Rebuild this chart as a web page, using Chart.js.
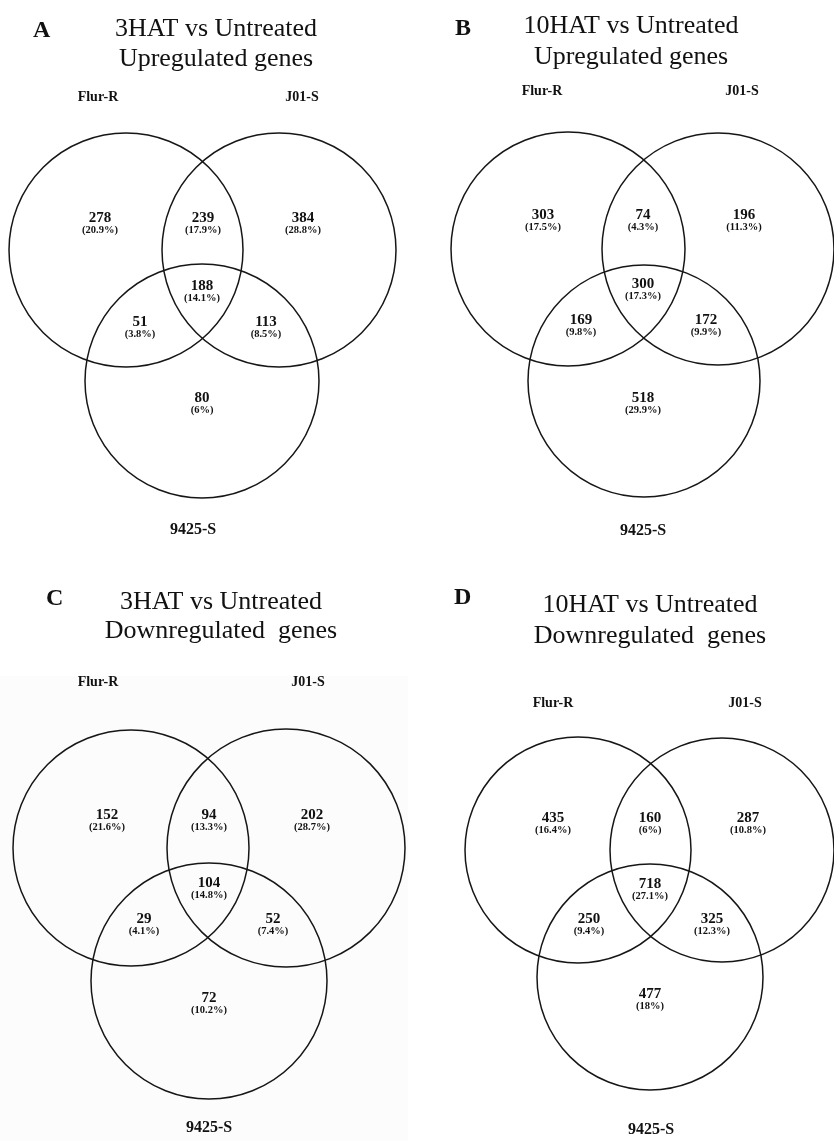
<!DOCTYPE html>
<html>
<head>
<meta charset="utf-8">
<script src="https://cdn.jsdelivr.net/npm/chart.js@4"></script>
<style>
  html, body { margin: 0; padding: 0; background: #fff; }
  #wrap { position: relative; width: 834px; height: 1141px; }
  canvas { display: block; }
</style>
</head>
<body>
<div id="wrap"><canvas id="c" width="834" height="1141"></canvas></div>
<script>
// ---------------- DATA ----------------
const panelLetters = ['A', 'B', 'C', 'D'];
const titleLine1 = ['3HAT vs Untreated', '10HAT vs Untreated', '3HAT vs Untreated', '10HAT vs Untreated'];
const titleLine2 = ['Upregulated genes', 'Upregulated genes', 'Downregulated  genes', 'Downregulated  genes'];
const setNames = ['Flur-R', 'J01-S', '9425-S'];
// region order: Flur-R only, Flur-R∩J01-S, J01-S only, all three, Flur-R∩9425-S, J01-S∩9425-S, 9425-S only
const countsA = [278, 239, 384, 188, 51, 113, 80];
const pctA    = [20.9, 17.9, 28.8, 14.1, 3.8, 8.5, 6];
const countsB = [303, 74, 196, 300, 169, 172, 518];
const pctB    = [17.5, 4.3, 11.3, 17.3, 9.8, 9.9, 29.9];
const countsC = [152, 94, 202, 104, 29, 52, 72];
const pctC    = [21.6, 13.3, 28.7, 14.8, 4.1, 7.4, 10.2];
const countsD = [435, 160, 287, 718, 250, 325, 477];
const pctD    = [16.4, 6, 10.8, 27.1, 9.4, 12.3, 18];

// ---------------- LAYOUT (diagram units) ----------------
const circlesA = [{x:126, y:250, r:117}, {x:279, y:250, r:117}, {x:202, y:381, r:117}];
const circlesB = [{x:568, y:249, r:117}, {x:718, y:249, r:116}, {x:644, y:381, r:116}];
const circlesC = [{x:131, y:848, r:118}, {x:286, y:848, r:119}, {x:209, y:981, r:118}];
const circlesD = [{x:578, y:850, r:113}, {x:722, y:850, r:112}, {x:650, y:977, r:113}];
const regionPosA = [[100,218],[203,218],[303,218],[202,286],[140,322],[266,322],[202,398]];
const regionPosB = [[543,215],[643,215],[744,215],[643,284],[581,320],[706,320],[643,398]];
const regionPosC = [[107,815],[209,815],[312,815],[209,883],[144,919],[273,919],[209,998]];
const regionPosD = [[553,818],[650,818],[748,818],[650,884],[589,919],[712,919],[650,994]];
const setPosA = [[98,97],[302,97],[193,530]];
const setPosB = [[542,91],[742,91],[643,531]];
const setPosC = [[98,682],[308,682],[209,1128]];
const setPosD = [[553,703],[745,703],[651,1130]];
const headerA = {letter:[33,37], cx:216, l1:36, l2:66};
const headerB = {letter:[455,35], cx:631, l1:33, l2:64};
const headerC = {letter:[46,605], cx:221, l1:609, l2:638};
const headerD = {letter:[454,604], cx:650, l1:612, l2:643};

const panels = [
  {circles:circlesA, counts:countsA, pct:pctA, pos:regionPosA, setPos:setPosA, head:headerA},
  {circles:circlesB, counts:countsB, pct:pctB, pos:regionPosB, setPos:setPosB, head:headerB},
  {circles:circlesC, counts:countsC, pct:pctC, pos:regionPosC, setPos:setPosC, head:headerC},
  {circles:circlesD, counts:countsD, pct:pctD, pos:regionPosD, setPos:setPosD, head:headerD}
];

const SERIF = '"Liberation Serif", "Times New Roman", Times, serif';

const bgPlugin = {
  id: 'bg',
  beforeDraw(chart) {
    const c = chart.ctx, xs = chart.scales.x, ys = chart.scales.y;
    c.save();
    c.fillStyle = '#fff';
    c.fillRect(0, 0, chart.width, chart.height);
    // faint grey backdrop of panel C
    c.fillStyle = '#fcfcfc';
    const x0 = xs.getPixelForValue(0), x1 = xs.getPixelForValue(408);
    const y0 = ys.getPixelForValue(676), y1 = ys.getPixelForValue(1141);
    c.fillRect(x0, y0, x1 - x0, y1 - y0);
    c.restore();
  }
};

const textPlugin = {
  id: 'vennText',
  afterDatasetsDraw(chart) {
    const c = chart.ctx, xs = chart.scales.x, ys = chart.scales.y;
    c.save();
    c.fillStyle = '#111';
    panels.forEach((p, pi) => {
      // panel letter
      c.textAlign = 'left'; c.textBaseline = 'alphabetic';
      c.font = 'bold 24px ' + SERIF;
      c.fillText(panelLetters[pi], xs.getPixelForValue(p.head.letter[0]), ys.getPixelForValue(p.head.letter[1]));
      // title
      c.textAlign = 'center';
      c.font = '26px ' + SERIF;
      c.fillText(titleLine1[pi], xs.getPixelForValue(p.head.cx), ys.getPixelForValue(p.head.l1));
      c.fillText(titleLine2[pi], xs.getPixelForValue(p.head.cx), ys.getPixelForValue(p.head.l2));
      // set names
      c.textBaseline = 'middle';
      setNames.forEach((n, si) => {
        c.font = 'bold ' + (si === 2 ? 16 : 14) + 'px ' + SERIF;
        c.fillText(n, xs.getPixelForValue(p.setPos[si][0]), ys.getPixelForValue(p.setPos[si][1]));
      });
      // region counts & percentages
      p.counts.forEach((v, ri) => {
        const px = xs.getPixelForValue(p.pos[ri][0]);
        c.font = 'bold 15px ' + SERIF;
        c.fillText(String(v), px, ys.getPixelForValue(p.pos[ri][1]));
        c.font = 'bold 10.5px ' + SERIF;
        c.fillText('(' + p.pct[ri] + '%)', px, ys.getPixelForValue(p.pos[ri][1] + 12.5));
      });
    });
    c.restore();
  }
};

const datasets = panels.map((p, pi) => ({
  label: 'Panel ' + panelLetters[pi],
  data: p.circles.map((ci, k) => ({x: ci.x, y: ci.y, r: ci.r, name: setNames[k]})),
  pointStyle: 'circle',
  backgroundColor: 'rgba(0,0,0,0)',
  borderColor: '#161616',
  borderWidth: 1.5,
  clip: false,
  pointRadius: (ctx) => {
    const s = ctx.chart.scales.x;
    if (!s || !ctx.raw) return 0;
    return Math.abs(s.getPixelForValue(ctx.raw.x + ctx.raw.r) - s.getPixelForValue(ctx.raw.x));
  },
  pointHoverRadius: (ctx) => {
    const s = ctx.chart.scales.x;
    if (!s || !ctx.raw) return 0;
    return Math.abs(s.getPixelForValue(ctx.raw.x + ctx.raw.r) - s.getPixelForValue(ctx.raw.x));
  }
}));

new Chart(document.getElementById('c'), {
  type: 'scatter',
  data: { datasets },
  options: {
    responsive: false,
    animation: false,
    events: [],
    layout: { padding: 0 },
    scales: {
      x: { type: 'linear', min: 0, max: 834, display: false },
      y: { type: 'linear', min: 0, max: 1141, reverse: true, display: false }
    },
    plugins: { legend: { display: false }, tooltip: { enabled: false }, title: { display: false } }
  },
  plugins: [bgPlugin, textPlugin]
});
</script>
</body>
</html>
